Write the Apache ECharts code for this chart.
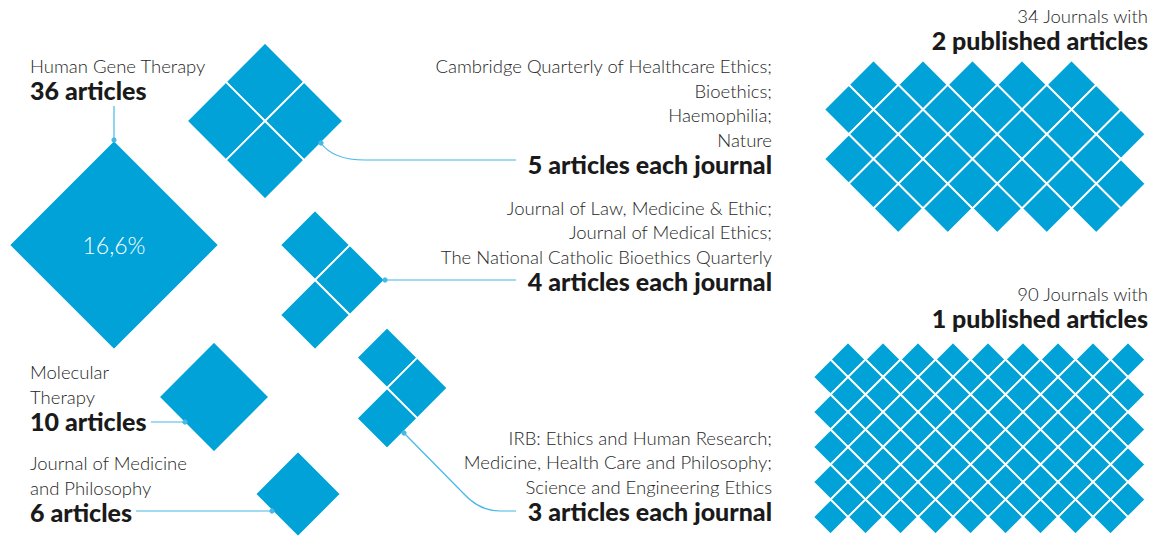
<!DOCTYPE html>
<html>
<head>
<meta charset="utf-8">
<script src="https://cdn.jsdelivr.net/npm/echarts@6/dist/echarts.min.js"></script>
<style>
  html, body { margin: 0; padding: 0; background: #fff; }
  #chart { width: 1156px; height: 536px; }
</style>
</head>
<body>
<div id="chart"></div>
<script>
// ---- data ----
var topJournals = ['Human Gene Therapy', 'Molecular Therapy', 'Journal of Medicine and Philosophy'];
var topArticles = [36, 10, 6];
var topShare = ['16,6%', '', ''];

var groupJournals = [
  ['Cambridge Quarterly of Healthcare Ethics', 'Bioethics', 'Haemophilia', 'Nature'],
  ['Journal of Law, Medicine & Ethic', 'Journal of Medical Ethics', 'The National Catholic Bioethics Quarterly'],
  ['IRB: Ethics and Human Research', 'Medicine, Health Care and Philosophy', 'Science and Engineering Ethics']
];
var groupArticles = [5, 4, 3];

var tailJournalCounts = [34, 90];
var tailArticles = [2, 1];

// ---- layout (pixels) ----
var K = 17.5; // half diagonal = K * sqrt(articles), area ~ articles
var BLUE = '#00a2d8';
var LINE = '#45b8e6';
var DARK = '#1a1a1a';
var GREY = '#262626';
var LIGHT_FONT = '300 18.5px Lato, "Open Sans", sans-serif';
var BOLD_FONT = '900 25px Lato, "Open Sans", sans-serif';

var topPos = [
  { c: [114, 245], text: [30, 90], wrap: 0 },
  { c: [214, 397], text: [30, 421], wrap: 1 },
  { c: [298, 494], text: [30, 512], wrap: 3 }
];
// cells of each small group in a rotated lattice (units of half diagonal)
var groupPos = [
  { c: [265, 121], cells: [[0, -1], [-1, 0], [1, 0], [0, 1]], text: [772, 164] },
  { c: [315, 280], cells: [[0, -1], [1, 0], [0, 1]], text: [772, 281] },
  { c: [387, 388], cells: [[0, -1], [1, 0], [0, 1]], text: [772, 511] }
];
var tailPos = [
  { o: [824, 60], rowStart: [2, 1, 2, 1, 2, 3], rowCount: [5, 6, 6, 6, 6, 5], text: [1148, 40] },
  { o: [813, 342], cols: 9, text: [1148, 318] }
];
var leaders = [
  { d: [['M', 114, 106], ['L', 114, 140]], dot: [114, 140] },
  { d: [['M', 321, 143], ['Q', 333, 160, 365, 160], ['L', 516, 160]], dot: [321, 143] },
  { d: [['M', 385, 280], ['L', 516, 280]], dot: [385, 280] },
  { d: [['M', 404, 433], ['L', 463, 493], ['Q', 479, 511, 500, 511], ['L', 516, 511]], dot: [404, 433] },
  { d: [['M', 151, 422], ['L', 185, 422]], dot: [185, 422] },
  { d: [['M', 136, 511], ['L', 272, 511]], dot: [272, 511] }
];

// ---- build diamonds: [cx, cy, halfDiag] ----
var diamonds = [];
topArticles.forEach(function (a, i) {
  diamonds.push([topPos[i].c[0], topPos[i].c[1], K * Math.sqrt(a)]);
});
groupArticles.forEach(function (a, i) {
  var h = K * Math.sqrt(a);
  var g = groupPos[i];
  for (var j = 0; j < groupJournals[i].length; j++) {
    var cell = g.cells[j];
    diamonds.push([g.c[0] + cell[0] * h, g.c[1] + cell[1] * h, h]);
  }
});
tailJournalCounts.forEach(function (n, i) {
  var h = K * Math.sqrt(tailArticles[i]);
  var t = tailPos[i];
  var cells = [];
  if (t.rowStart) {
    for (var r = 0; r < t.rowStart.length; r++) {
      for (var k = 0; k < t.rowCount[r]; k++) cells.push([t.rowStart[r] + 2 * k, r + 1]);
    }
  } else {
    for (var m = 0; m < n; m++) {
      var row = Math.floor(m / t.cols), col = m % t.cols;
      cells.push([(row % 2 === 0 ? 2 : 1) + 2 * col, row + 1]);
    }
  }
  cells.slice(0, n).forEach(function (c) {
    diamonds.push([t.o[0] + c[0] * h, t.o[1] + c[1] * h, h]);
  });
});

// ---- texts ----
var texts = [];
function txt(x, y, s, font, fill, align) {
  texts.push({
    type: 'text', x: x, y: y, z: 100, silent: true,
    style: { text: s, font: font, fill: fill, textAlign: align, align: align,
             textVerticalAlign: 'middle', verticalAlign: 'middle' }
  });
}
var LH = 24.5;
topJournals.forEach(function (name, i) {
  var p = topPos[i];
  var words = name.split(' ');
  var lines = p.wrap ? [words.slice(0, p.wrap).join(' '), words.slice(p.wrap).join(' ')] : [name];
  lines.forEach(function (l, j) {
    txt(p.text[0], p.text[1] - LH * (lines.length - j), l, LIGHT_FONT, GREY, 'left');
  });
  txt(p.text[0], p.text[1], topArticles[i] + ' articles', BOLD_FONT, DARK, 'left');
  if (topShare[i]) {
    txt(p.c[0], p.c[1], topShare[i], '300 23px Lato, "Open Sans", sans-serif', '#ffffff', 'center');
  }
});
groupJournals.forEach(function (list, i) {
  var p = groupPos[i];
  list.forEach(function (name, j) {
    var sep = j < list.length - 1 ? ';' : '';
    txt(p.text[0], p.text[1] - LH * (list.length - j), name + sep, LIGHT_FONT, GREY, 'right');
  });
  txt(p.text[0], p.text[1], groupArticles[i] + ' articles each journal', BOLD_FONT, DARK, 'right');
});
tailJournalCounts.forEach(function (n, i) {
  var p = tailPos[i];
  txt(p.text[0], p.text[1] - 24, n + ' Journals with', LIGHT_FONT, GREY, 'right');
  txt(p.text[0], p.text[1], tailArticles[i] + ' published articles', BOLD_FONT, DARK, 'right');
});

// ---- chart ----
var chart = echarts.init(document.getElementById('chart'), null, { renderer: 'svg' });
chart.setOption({
  animation: false,
  backgroundColor: '#ffffff',
  grid: { left: 0, right: 0, top: 0, bottom: 0 },
  xAxis: { type: 'value', min: 0, max: 1156, show: false },
  yAxis: { type: 'value', min: 0, max: 536, inverse: true, show: false },
  series: [
    {
      type: 'custom',
      silent: true,
      z: 2,
      data: diamonds,
      renderItem: function (params, api) {
        var c = api.coord([api.value(0), api.value(1)]);
        var s = api.size([api.value(2), api.value(2)]);
        return {
          type: 'polygon',
          shape: { points: [[c[0], c[1] - s[1]], [c[0] + s[0], c[1]], [c[0], c[1] + s[1]], [c[0] - s[0], c[1]]] },
          style: { fill: BLUE, stroke: '#ffffff', lineWidth: 1.8 }
        };
      }
    },
    {
      type: 'custom',
      silent: true,
      z: 3,
      data: leaders.map(function (l, i) { return [i]; }),
      renderItem: function (params, api) {
        var l = leaders[params.dataIndex];
        var path = l.d.map(function (seg) {
          var out = seg[0];
          for (var q = 1; q < seg.length; q += 2) {
            var p = api.coord([seg[q], seg[q + 1]]);
            out += ' ' + p[0] + ' ' + p[1];
          }
          return out;
        }).join(' ');
        var dot = api.coord(l.dot);
        return {
          type: 'group',
          children: [
            { type: 'path', shape: { pathData: path }, style: { fill: null, stroke: LINE, lineWidth: 1.2 } },
            { type: 'circle', shape: { cx: dot[0], cy: dot[1], r: 2.6 }, style: { fill: LINE } }
          ]
        };
      }
    }
  ],
  graphic: texts
});
</script>
</body>
</html>
